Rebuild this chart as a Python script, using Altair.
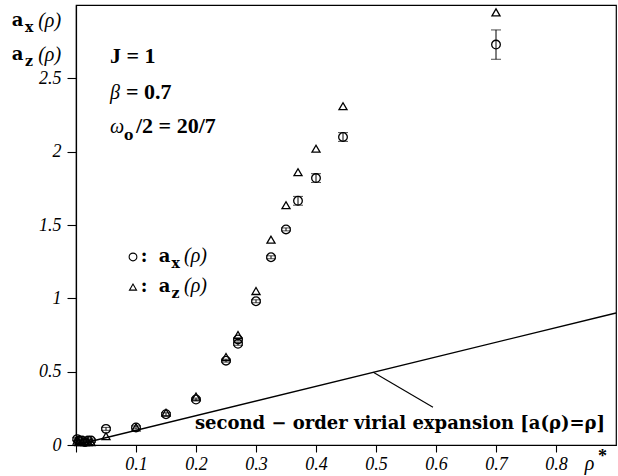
import altair as alt
import pandas as pd

SERIF = "Liberation Serif, Times New Roman, serif"
WIDE = "DejaVu Serif"

# ---- data ----
rho_x = [0.002, 0.005, 0.01, 0.015, 0.02, 0.025, 0.05, 0.1, 0.15, 0.2, 0.25, 0.27, 0.27,
         0.3, 0.325, 0.35, 0.37, 0.4, 0.445, 0.7]
a_x = [0.04, 0.03, 0.03, 0.02, 0.03, 0.03, 0.11, 0.12, 0.21, 0.31, 0.575, 0.69, 0.72,
       0.98, 1.28, 1.47, 1.665, 1.82, 2.10, 2.73]
a_x_err = [0.01, 0.01, 0.01, 0.01, 0.01, 0.01, 0.01, 0.01, 0.01, 0.01, 0.01, 0.01, 0.01,
           0.01, 0.01, 0.01, 0.03, 0.03, 0.03, 0.10]
rho_z = [0.002, 0.005, 0.01, 0.015, 0.02, 0.025, 0.05, 0.1, 0.15, 0.2, 0.25, 0.27,
         0.3, 0.325, 0.35, 0.37, 0.4, 0.445, 0.7]
a_z = [0.03, 0.02, 0.02, 0.02, 0.02, 0.02, 0.06, 0.12, 0.22, 0.33, 0.60, 0.75,
       1.05, 1.40, 1.635, 1.86, 2.02, 2.31, 2.95]

virial_rho = [0.0, 0.9]
virial_a = [0.0, 0.9]
leader_x = [0.4955]
leader_y = [0.4955]
leader_x2 = [0.595]
leader_y2 = [0.257]

x_ticks = [0, 0.1, 0.2, 0.3, 0.4, 0.5, 0.6, 0.7, 0.8]
y_ticks = [0, 0.5, 1, 1.5, 2, 2.5]

# text annotations (data coordinates)
param_x = [0.0567, 0.0833, 0.1]
param_y = [2.604, 2.359, 2.127]
param_t = ["J = 1", "= 0.7", "/2 = 20/7"]

a_lab_x = [-0.107, -0.107, 0.138, 0.138]
a_lab_y = [2.857, 2.625, 1.248, 1.043]
a_lab_t = ["a", "a", "a", "a"]

colon_x = [0.108, 0.108]
colon_y = [1.248, 1.043]
colon_t = [":", ":"]

sub_x = [-0.085, -0.085, 0.08, 0.159, 0.159]
sub_y = [2.816, 2.584, 2.08, 1.207, 1.002]
sub_t = ["x", "z", "o", "x", "z"]

ital_x = [-0.063, -0.063, 0.0567, 0.0567, 0.18, 0.18, 0.848]
ital_y = [2.85, 2.618, 2.359, 2.127, 1.248, 1.043, -0.17]
ital_t = ["(ρ)", "(ρ)", "β", "ω", "(ρ)", "(ρ)", "ρ"]

star_x = [0.87]
star_y = [-0.116]
star_t = ["*"]

note_x = [0.8817]
note_y = [0.109]
note_t = ["second − order virial expansion [a(ρ)=ρ]"]

legend_x = [0.095]
legend_circle_y = [1.282]
legend_tri_y = [1.077]

# ---- encodings ----
X = alt.X("x:Q", scale=alt.Scale(domain=[0, 0.9], nice=False, zero=False),
          axis=alt.Axis(values=x_ticks, format="~g",
                        labelExpr="datum.value == 0 ? '' : datum.label",
                        title=None, grid=False, tickSize=7, labelPadding=3))
Y = alt.Y("y:Q", scale=alt.Scale(domain=[0, 3], nice=False, zero=False),
          axis=alt.Axis(values=y_ticks, format="~g", title=None, grid=False,
                        tickSize=9, labelPadding=6))


def text_layer(xs, ys, ts, size, font=SERIF, style="normal", weight="normal", align="left"):
    df = pd.DataFrame({"x": xs, "y": ys, "t": ts})
    return alt.Chart(df).mark_text(
        font=font, fontSize=size, fontStyle=style, fontWeight=weight,
        align=align, baseline="alphabetic", color="black"
    ).encode(x=X, y=Y, text="t:N")


df_x = pd.DataFrame({"x": rho_x, "y": a_x,
                     "lo": [a - e for a, e in zip(a_x, a_x_err)],
                     "hi": [a + e for a, e in zip(a_x, a_x_err)]})
df_z = pd.DataFrame({"x": rho_z, "y": a_z})
df_line = pd.DataFrame({"x": virial_rho, "y": virial_a})
df_leader = pd.DataFrame({"x": leader_x, "y": leader_y, "x2": leader_x2, "y2": leader_y2})

YS = alt.Scale(domain=[0, 3], nice=False, zero=False)

line = alt.Chart(df_line).mark_line(color="black", strokeWidth=1.3).encode(x=X, y=Y)
leader = alt.Chart(df_leader).mark_rule(color="black", strokeWidth=1.1).encode(
    x=X, y=Y, x2="x2:Q", y2="y2:Q")

err_rule = alt.Chart(df_x).mark_rule(color="black", strokeWidth=1).encode(
    x=X, y=alt.Y("lo:Q", scale=YS), y2="hi:Q")
cap_lo = alt.Chart(df_x).mark_tick(color="black", orient="horizontal", size=10, thickness=1).encode(
    x=X, y=alt.Y("lo:Q", scale=YS))
cap_hi = alt.Chart(df_x).mark_tick(color="black", orient="horizontal", size=10, thickness=1).encode(
    x=X, y=alt.Y("hi:Q", scale=YS))

circles = alt.Chart(df_x).mark_point(shape="circle", filled=False, color="black",
                                      size=75, strokeWidth=1.3, opacity=1).encode(x=X, y=Y)
tris = alt.Chart(df_z).mark_point(shape="triangle-up", filled=False, color="black",
                                   size=65, strokeWidth=1.3, opacity=1).encode(x=X, y=Y)

leg_c = alt.Chart(pd.DataFrame({"x": legend_x, "y": legend_circle_y})).mark_point(
    shape="circle", filled=False, color="black", size=60, strokeWidth=1.1, opacity=1).encode(x=X, y=Y)
leg_t = alt.Chart(pd.DataFrame({"x": legend_x, "y": legend_tri_y})).mark_point(
    shape="triangle-up", filled=False, color="black", size=50, strokeWidth=1.1, opacity=1).encode(x=X, y=Y)

chart = alt.layer(
    line, leader, err_rule, cap_lo, cap_hi, circles, tris, leg_c, leg_t,
    text_layer(param_x, param_y, param_t, 22, weight="bold"),
    text_layer(a_lab_x, a_lab_y, a_lab_t, 18, font=WIDE, weight="bold"),
    text_layer(colon_x, colon_y, colon_t, 18, font=WIDE, weight="bold"),
    text_layer(sub_x, sub_y, sub_t, 14, font=WIDE, weight="bold"),
    text_layer(ital_x, ital_y, ital_t, 20, style="italic"),
    text_layer(star_x, star_y, star_t, 18, weight="bold"),
    text_layer(note_x, note_y, note_t, 18, font=WIDE, weight="bold", align="right"),
).properties(
    width=540, height=440,
    background="white",
    autosize=alt.AutoSizeParams(type="none"),
    padding={"left": 76, "top": 5, "right": 2, "bottom": 31},
).configure_view(
    stroke="black", strokeWidth=1.2
).configure_axis(
    labelFont=SERIF, labelFontSize=18, labelFontStyle="italic", labelColor="black",
    domainColor="black", tickColor="black", domainWidth=1.2, tickWidth=1.1
)

chart.save("out.html", embed_options={"renderer": "svg", "actions": False})
